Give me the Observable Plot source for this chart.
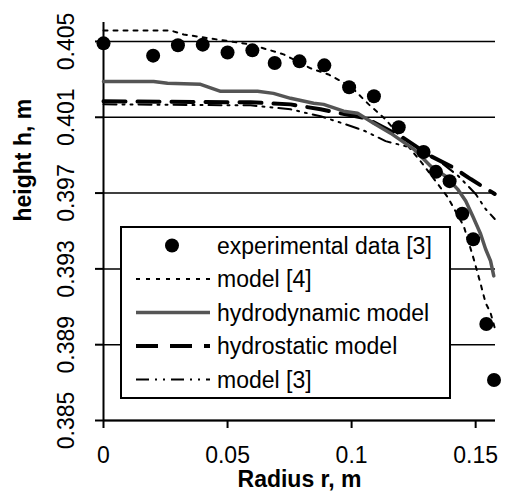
<!DOCTYPE html>
<html>
<head>
<meta charset="utf-8">
<script src="https://cdn.jsdelivr.net/npm/d3@7"></script>
<script src="https://cdn.jsdelivr.net/npm/@observablehq/plot@0.6"></script>
<style>
  html, body { margin: 0; padding: 0; background: white; }
</style>
</head>
<body>
<div id="chart"></div>
<script>
// ---- data ----
const rTicks = [0, 0.05, 0.1, 0.15];
const hTicks = [0.385, 0.389, 0.393, 0.397, 0.401, 0.405];

const expR = [0, 0.02, 0.03, 0.04, 0.05, 0.06, 0.069, 0.079, 0.089, 0.099, 0.109, 0.119, 0.129, 0.134, 0.1395, 0.1446, 0.149, 0.1543, 0.1574];
const expH = [0.4049, 0.40425, 0.4048, 0.40483, 0.40442, 0.40453, 0.40386, 0.40395, 0.40374, 0.40258, 0.40211, 0.40047, 0.39917, 0.39812, 0.39763, 0.39591, 0.39456, 0.39009, 0.38714];

const model4R = [0, 0.027, 0.0323, 0.0593, 0.0726, 0.0835, 0.0907, 0.0996, 0.1069, 0.1137, 0.1278, 0.1387, 0.1452, 0.1492, 0.152, 0.154, 0.156, 0.158];
const model4H = [0.40558, 0.40558, 0.40537, 0.40484, 0.40432, 0.40358, 0.40326, 0.40263, 0.40168, 0.40089, 0.39868, 0.39679, 0.39526, 0.39353, 0.39221, 0.39121, 0.39068, 0.38974];

const hydrodynR = [0, 0.0202, 0.0258, 0.0391, 0.0472, 0.0621, 0.0685, 0.0754, 0.0847, 0.0887, 0.0968, 0.1024, 0.1089, 0.1157, 0.125, 0.1319, 0.1379, 0.1427, 0.146, 0.1488, 0.152, 0.154, 0.156, 0.1573];
const hydrodynH = [0.40289, 0.40289, 0.40279, 0.40274, 0.40237, 0.40237, 0.40226, 0.402, 0.40174, 0.40168, 0.40132, 0.40121, 0.40068, 0.40016, 0.39932, 0.39842, 0.39789, 0.39721, 0.39658, 0.39579, 0.39484, 0.39405, 0.39342, 0.39263];

const hydrostR = [0, 0.0593, 0.0754, 0.0875, 0.1056, 0.1198, 0.1319, 0.1407, 0.148, 0.1577];
const hydrostH = [0.40184, 0.40179, 0.40168, 0.40142, 0.40095, 0.4, 0.39895, 0.39837, 0.39774, 0.39695];

const model3R = [0, 0.0593, 0.0754, 0.0875, 0.0976, 0.1056, 0.1137, 0.1218, 0.1339, 0.1431, 0.15, 0.154, 0.1577];
const model3H = [0.40168, 0.40163, 0.40142, 0.40105, 0.40063, 0.40026, 0.39974, 0.39947, 0.39884, 0.39789, 0.39695, 0.39616, 0.39563];

const seriesNames = ["experimental data [3]", "model [4]", "hydrodynamic model", "hydrostatic model", "model [3]"];
const xTitle = "Radius r, m";
const yTitle = "height h, m";

// ---- build tables ----
const zip = (xs, ys) => xs.map((x, i) => ({r: x, h: ys[i]}));
const exp = zip(expR, expH);
const m4 = zip(model4R, model4H);
const hd = zip(hydrodynR, hydrodynH);
const hs = zip(hydrostR, hydrostH);
const m3 = zip(model3R, model3H);

const styles = {
  m4: {stroke: "black", strokeWidth: 2, strokeDasharray: "4,6"},
  hd: {stroke: "#555555", strokeWidth: 3.5, strokeDasharray: null},
  hs: {stroke: "black", strokeWidth: 4, strokeDasharray: "22,12"},
  m3: {stroke: "black", strokeWidth: 2, strokeDasharray: "13,6,2,6,2,6"}
};

const FONT = "'Liberation Sans', Arial, sans-serif";

const chart = Plot.plot({
  width: 505,
  height: 495,
  marginLeft: 103,
  marginRight: 10,
  marginTop: 22,
  marginBottom: 75,
  x: {domain: [0, 0.158]},
  y: {domain: [0.385, 0.406]},
  style: {fontFamily: FONT, fontSize: "23px", color: "black", background: "white"},
  marks: [
    Plot.gridY(hTicks, {stroke: "black", strokeOpacity: 1, strokeWidth: 1.5}),
    Plot.ruleX([0], {stroke: "black", strokeWidth: 2}),
    Plot.ruleY([0.385], {stroke: "black", strokeWidth: 2}),
    Plot.axisX(rTicks, {tickSize: 8, tickPadding: 18, strokeWidth: 2, tickFormat: d => String(d), label: null}),
    Plot.axisY(hTicks, {tickSize: 8, tickRotate: -90, tickPadding: 22, strokeWidth: 2, tickFormat: d => d.toFixed(3), label: null}),
    Plot.line(m4, {x: "r", y: "h", ...styles.m4}),
    Plot.line(hs, {x: "r", y: "h", ...styles.hs}),
    Plot.line(m3, {x: "r", y: "h", ...styles.m3}),
    Plot.line(hd, {x: "r", y: "h", ...styles.hd}),
    Plot.dot(exp, {x: "r", y: "h", r: 7, fill: "black"}),
    Plot.text([yTitle], {text: d => d, frameAnchor: "left", rotate: -90, dx: -80, fontWeight: "bold", fontSize: 23}),
    Plot.text([xTitle], {text: d => d, frameAnchor: "bottom", dy: 66, fontWeight: "bold", fontSize: 23})
  ]
});

document.getElementById("chart").appendChild(chart);

// ---- legend (drawn over the plot, as in the reference) ----
const svg = d3.select(chart);
const lg = svg.append("g").attr("font-family", FONT).attr("font-size", 23).attr("text-anchor", "start");
lg.append("rect").attr("x", 121).attr("y", 227).attr("width", 329).attr("height", 171)
  .attr("fill", "white").attr("stroke", "black").attr("stroke-width", 2);
const keys = [null, styles.m4, styles.hd, styles.hs, styles.m3];
seriesNames.forEach((name, i) => {
  const cy = 245.5 + i * 33.5;
  const k = keys[i];
  if (k === null) {
    lg.append("circle").attr("cx", 172).attr("cy", cy).attr("r", 7).attr("fill", "black");
  } else {
    lg.append("line").attr("x1", 136).attr("x2", 210).attr("y1", cy).attr("y2", cy)
      .attr("stroke", k.stroke).attr("stroke-width", k.strokeWidth)
      .attr("stroke-dasharray", k.strokeDasharray);
  }
  lg.append("text").attr("x", 217).attr("y", cy + 8).attr("text-anchor", "start").text(name);
});
</script>
</body>
</html>
